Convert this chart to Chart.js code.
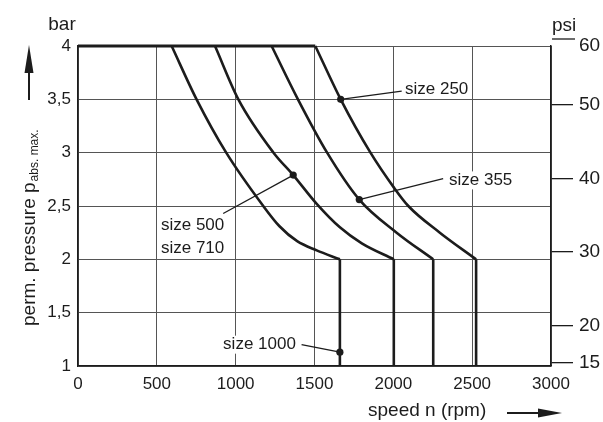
<!DOCTYPE html>
<html><head><meta charset="utf-8">
<script src="https://cdn.jsdelivr.net/npm/chart.js@4/dist/chart.umd.min.js"></script>
<style>html,body{margin:0;padding:0;background:#fff;}canvas{display:block;}</style>
</head><body>
<canvas id="c" width="603" height="422"></canvas>
<script>
// ---- data (speed in rpm, pressure in bar) ----
const size1000X = [594, 752, 940, 1175, 1278, 1390, 1514, 1661];
const size1000Y = [4, 3.5, 3.0, 2.5, 2.31, 2.17, 2.084, 2.0];
const size500X  = [869, 1017, 1240, 1365, 1514, 1661, 1800, 2003];
const size500Y  = [4, 3.5, 3.0, 2.79, 2.52, 2.30, 2.15, 2.0];
const size355X  = [1228, 1395, 1580, 1784, 2021, 2253];
const size355Y  = [4, 3.5, 3.0, 2.56, 2.25, 2.0];
const size250X  = [1505, 1666, 1855, 2005, 2095, 2295, 2525];
const size250Y  = [4, 3.5, 3.0, 2.67, 2.5, 2.25, 2.0];
const limitSpeeds = [1661, 2003, 2253, 2525];
const limitPressures = [2, 1];
const maxLineX = [0, 1505];
const maxLineY = [4, 4];
const markerX = [1666, 1784, 1365, 1661];
const markerY = [3.5, 2.56, 2.79, 1.13];
const sizeLabels = ['size 250', 'size 355', 'size 500', 'size 710', 'size 1000'];
const psiTicks = [15, 20, 30, 40, 50, 60];
const PSI_PER_BAR = 14.5038;

const zip = (xs, ys) => xs.map((v, i) => ({x: v, y: ys[i]}));
const INK = '#1c1c1c';
const FONT = '"Liberation Sans", Arial, sans-serif';

const curveDs = (xs, ys) => ({data: zip(xs, ys), showLine: true, borderColor: INK, borderWidth: 2.6,
  pointRadius: 0, cubicInterpolationMode: 'monotone', clip: false});
const datasets = [
  {data: zip(maxLineX, maxLineY), showLine: true, borderColor: INK, borderWidth: 3, pointRadius: 0, clip: false},
  curveDs(size1000X, size1000Y), curveDs(size500X, size500Y), curveDs(size355X, size355Y), curveDs(size250X, size250Y),
  ...limitSpeeds.map(s => ({data: limitPressures.map(p => ({x: s, y: p})), showLine: true, borderColor: INK,
    borderWidth: 2.6, pointRadius: 0, clip: false})),
  {data: zip(markerX, markerY), showLine: false, pointRadius: 3.6, pointBackgroundColor: INK, pointBorderWidth: 0}
];

const overlay = {
  id: 'overlay',
  afterDatasetsDraw(chart) {
    const {ctx, scales: {x, y}} = chart;
    const px = v => x.getPixelForValue(v), py = v => y.getPixelForValue(v);
    ctx.save();
    ctx.font = '17px ' + FONT;
    ctx.textBaseline = 'middle';
    // label placements (data coords): text anchor, alignment, leader end, marker index
    const labels = [
      {t: sizeLabels[0], tx: 2074, ty: 3.594, al: 'left', lx: 2053, ly: 3.577, m: 0},
      {t: sizeLabels[1], tx: 2353, ty: 2.74, al: 'left', lx: 2316, ly: 2.756, m: 1},
      {t: sizeLabels[2], tx: 526, ty: 2.32, al: 'left', lx: 921, ly: 2.43, m: 2},
      {t: sizeLabels[3], tx: 526, ty: 2.10, al: 'left'},
      {t: sizeLabels[4], tx: 1382, ty: 1.20, al: 'right', lx: 1418, ly: 1.20, m: 3}
    ];
    labels.forEach(l => {
      const w = ctx.measureText(l.t).width;
      const X = px(l.tx), Y = py(l.ty);
      const left = l.al === 'left' ? X : X - w;
      ctx.fillStyle = '#fff';
      ctx.fillRect(left - 2, Y - 9, w + 4, 18);
      ctx.fillStyle = INK;
      ctx.textAlign = l.al;
      ctx.fillText(l.t, X, Y);
      if (l.m !== undefined) {
        ctx.strokeStyle = INK; ctx.lineWidth = 1.3;
        ctx.beginPath();
        ctx.moveTo(px(l.lx), py(l.ly));
        ctx.lineTo(px(markerX[l.m]), py(markerY[l.m]));
        ctx.stroke();
      }
    });
    ctx.restore();
  },
  afterDraw(chart) {
    const {ctx, chartArea: a} = chart;
    ctx.save();
    ctx.fillStyle = INK; ctx.strokeStyle = INK;
    ctx.textBaseline = 'middle';
    ctx.font = '19px ' + FONT;
    ctx.textAlign = 'center';
    ctx.fillText('bar', 62, 25);
    ctx.textAlign = 'left';
    ctx.fillText('psi', a.right + 1, 26);
    ctx.lineWidth = 1.3;
    ctx.beginPath(); ctx.moveTo(a.right + 1, 39); ctx.lineTo(a.right + 24, 39); ctx.stroke();
    // x title + arrow
    ctx.fillText('speed n (rpm)', 368, 411);
    ctx.lineWidth = 2;
    ctx.beginPath(); ctx.moveTo(507, 413); ctx.lineTo(540, 413); ctx.stroke();
    ctx.beginPath(); ctx.moveTo(562, 413); ctx.lineTo(538, 408.5); ctx.lineTo(538, 417.5); ctx.closePath(); ctx.fill();
    // y arrow
    ctx.beginPath(); ctx.moveTo(29, 100); ctx.lineTo(29, 70); ctx.stroke();
    ctx.beginPath(); ctx.moveTo(29, 45); ctx.lineTo(24.5, 73); ctx.lineTo(33.5, 73); ctx.closePath(); ctx.fill();
    // y title rotated
    ctx.translate(35, 326);
    ctx.rotate(-Math.PI / 2);
    ctx.textBaseline = 'alphabetic';
    ctx.font = '19px ' + FONT;
    const main = 'perm. pressure p';
    ctx.fillText(main, 0, 0);
    const w = ctx.measureText(main).width;
    ctx.font = '12px ' + FONT;
    ctx.fillText('abs. max.', w + 1, 3);
    ctx.restore();
  }
};

new Chart(document.getElementById('c'), {
  type: 'scatter',
  data: {datasets},
  plugins: [overlay],
  options: {
    responsive: false, animation: false, devicePixelRatio: 1,
    layout: {padding: {top: 46, left: 0, right: 0, bottom: 0}},
    plugins: {legend: {display: false}, tooltip: {enabled: false}},
    scales: {
      x: {type: 'linear', min: 0, max: 3000,
        ticks: {stepSize: 500, padding: 8, maxRotation: 0, color: INK, font: {size: 17, family: FONT},
          callback: v => String(v)},
        grid: {color: '#555', lineWidth: 1, drawTicks: false},
        border: {color: INK, width: 1.5},
        afterFit(s) { s.height = 56; }},
      y: {type: 'linear', position: 'left', min: 1, max: 4,
        ticks: {stepSize: 0.5, padding: 7, color: INK, font: {size: 17, family: FONT},
          callback: v => String(v).replace('.', ',')},
        grid: {color: '#555', lineWidth: 1, drawTicks: false},
        border: {color: INK, width: 1.5},
        afterFit(s) { s.width = 78; }},
      y2: {type: 'linear', position: 'right', min: 1, max: 4,
        afterBuildTicks(s) { s.ticks = psiTicks.map(p => ({value: Math.min(p / PSI_PER_BAR, 4)})); },
        ticks: {autoSkip: false, padding: 6, color: INK, font: {size: 19, family: FONT},
          callback: (v, i) => psiTicks[i]},
        grid: {drawOnChartArea: false, tickLength: 22, lineWidth: 1.3,
          color: c => (c.tick && c.tick.value >= 4) ? 'rgba(0,0,0,0)' : INK},
        border: {color: INK, width: 1.5},
        afterFit(s) { s.width = 52; }}
    }
  }
});
</script>
</body></html>
